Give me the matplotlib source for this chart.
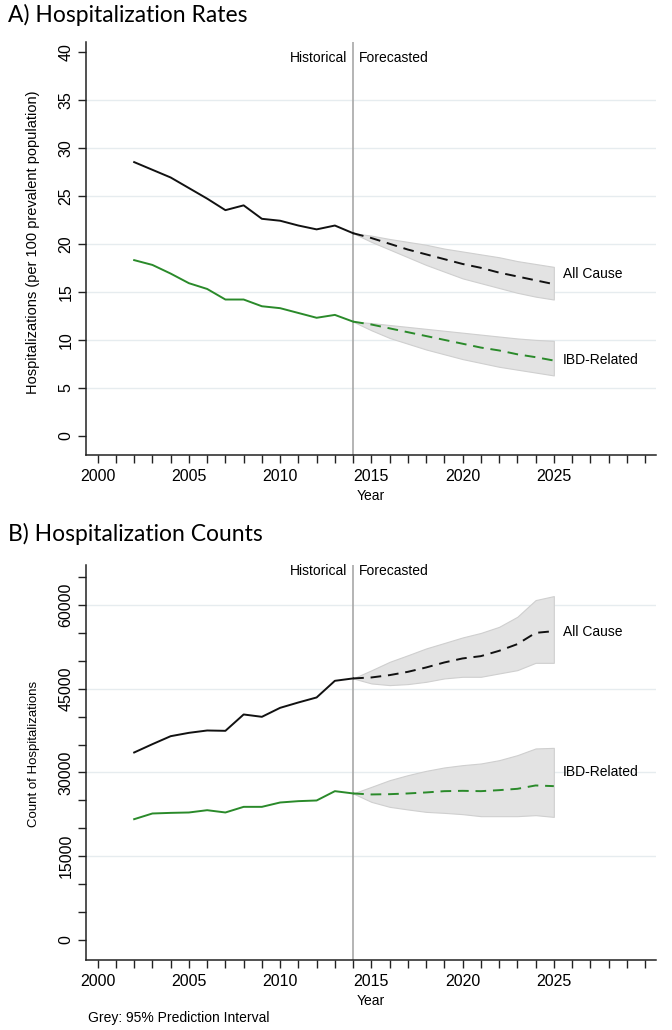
import matplotlib
matplotlib.use("Agg")
import matplotlib.pyplot as plt
import numpy as np

plt.rcParams['font.family'] = ['Liberation Sans', 'DejaVu Sans']

# ---------------- data ----------------
hist_years = list(range(2002, 2015))
fc_years = list(range(2014, 2026))

# Panel A: rates per 100 prevalent population
rate_all_hist = [28.5, 27.7, 26.9, 25.8, 24.7, 23.5, 24.0, 22.6, 22.4, 21.9, 21.5, 21.9, 21.1]
rate_ibd_hist = [18.3, 17.8, 16.9, 15.9, 15.3, 14.2, 14.2, 13.5, 13.3, 12.8, 12.3, 12.6, 11.9]

rate_all_fc = [21.1, 20.6, 20.0, 19.4, 18.9, 18.4, 17.9, 17.5, 17.0, 16.6, 16.2, 15.8]
rate_all_lo = [21.1, 20.2, 19.4, 18.6, 17.8, 17.1, 16.4, 15.9, 15.4, 14.9, 14.5, 14.2]
rate_all_hi = [21.1, 20.85, 20.5, 20.2, 19.9, 19.5, 19.2, 18.9, 18.6, 18.2, 17.9, 17.6]

rate_ibd_fc = [11.9, 11.6, 11.2, 10.8, 10.4, 10.0, 9.6, 9.2, 8.9, 8.5, 8.2, 7.85]
rate_ibd_lo = [11.9, 11.0, 10.2, 9.6, 9.0, 8.5, 8.0, 7.6, 7.2, 6.9, 6.6, 6.3]
rate_ibd_hi = [11.9, 11.75, 11.55, 11.35, 11.15, 10.95, 10.75, 10.55, 10.35, 10.15, 10.0, 9.9]

# Panel B: counts
cnt_all_hist = [33580, 35070, 36500, 37100, 37520, 37460, 40390, 39970, 41580, 42540, 43440, 46420, 46850]
cnt_ibd_hist = [21630, 22650, 22760, 22830, 23240, 22830, 23840, 23840, 24620, 24860, 24980, 26650, 26240]

cnt_all_fc = [46850, 47020, 47440, 48030, 48810, 49710, 50430, 50840, 51790, 52990, 55010, 55320]
cnt_all_lo = [46850, 45950, 45650, 45830, 46240, 46850, 47140, 47140, 47740, 48330, 49640, 49640]
cnt_all_hi = [46850, 48300, 49820, 51000, 52220, 53200, 54190, 55000, 56090, 57890, 60880, 61600]

cnt_ibd_fc = [26240, 26060, 26110, 26240, 26420, 26650, 26710, 26650, 26830, 27070, 27670, 27550]
cnt_ibd_lo = [26240, 24730, 23840, 23370, 22940, 22760, 22530, 22170, 22170, 22170, 22350, 22040]
cnt_ibd_hi = [26240, 27420, 28620, 29520, 30290, 30900, 31310, 31610, 32200, 33100, 34300, 34410]

x_major = [2000, 2005, 2010, 2015, 2020, 2025]
x_minor = list(range(2000, 2031))
rate_ticks = [0, 5, 10, 15, 20, 25, 30, 35, 40]
rate_grid = [5, 10, 15, 20, 25, 30, 35]
cnt_ticks = [0, 15000, 30000, 45000, 60000]
cnt_grid = [15000, 30000, 45000, 60000]
cnt_minor = list(range(0, 70000, 5000))

# ---------------- style ----------------
BLACK = "#111111"
GREEN = "#2a8a2a"
BAND = "#e3e3e3"
BAND_EDGE = "#cfcfcf"
GRID = "#e6ecef"
VLINE = "#a8a8a8"

fig = plt.figure(figsize=(6.72, 10.30), dpi=100)
axA = fig.add_axes([86/672, 1-455/1030, (656-86)/672, (455-42)/1030])
axB = fig.add_axes([86/672, 1-960/1030, (656-86)/672, (960-565)/1030])


def style_axis(ax, yticks, ygrid, yminor, ylim, ylabel, ylabsize, ylab_y):
    ax.set_xlim(1999.36, 2030.6)
    ax.set_ylim(*ylim)
    for s in ["top", "right"]:
        ax.spines[s].set_visible(False)
    for s in ["left", "bottom"]:
        ax.spines[s].set_linewidth(1.1)
        ax.spines[s].set_color("#222222")
    ax.set_xticks(x_minor, minor=True)
    ax.set_xticks(x_major)
    ax.set_xticklabels([str(v) for v in x_major], fontsize=11.5)
    ax.tick_params(axis="x", which="both", length=6, width=1.0, color="#222222", pad=4)
    ax.set_yticks(yticks)
    if yminor is not None:
        ax.set_yticks(yminor, minor=True)
    ax.set_yticklabels([str(v) for v in yticks], fontsize=11.5, rotation=90, va="center")
    ax.tick_params(axis="y", which="both", length=6, width=1.0, color="#222222", pad=3)
    for t in ygrid:
        ax.axhline(t, color=GRID, lw=1.0, zorder=0)
    ax.axvline(2014, color=VLINE, lw=1.2, zorder=1)
    ax.set_xlabel("Year", fontsize=10, labelpad=4)
    ax.set_ylabel(ylabel, fontsize=ylabsize)
    ax.yaxis.set_label_coords(-0.081, ylab_y)


def draw_series(ax, hist, fc, lo, hi, color):
    ax.fill_between(fc_years, lo, hi, facecolor=BAND, edgecolor=BAND_EDGE, lw=0.8, zorder=2)
    ax.plot(hist_years, hist, color=color, lw=1.4, zorder=3)
    ax.plot(fc_years, fc, color=color, lw=1.4, ls=(0, (5.5, 3.5)), zorder=3)


# Panel A
style_axis(axA, rate_ticks, rate_grid, None, (-1.98, 41.0),
           "Hospitalizations (per 100 prevalent population)", 10.5, 0.5145)
draw_series(axA, rate_all_hist, rate_all_fc, rate_all_lo, rate_all_hi, BLACK)
draw_series(axA, rate_ibd_hist, rate_ibd_fc, rate_ibd_lo, rate_ibd_hi, GREEN)
axA.text(2025.5, 16.9, "All Cause", fontsize=10, va="center", ha="left")
axA.text(2025.5, 7.9, "IBD-Related", fontsize=10, va="center", ha="left")
axA.text(2013.7, 39.3, "Historical", fontsize=10, va="center", ha="right")
axA.text(2014.3, 39.3, "Forecasted", fontsize=10, va="center", ha="left")

# Panel B
style_axis(axB, cnt_ticks, cnt_grid, cnt_minor, (-3600, 67170),
           "Count of Hospitalizations", 9.5, 0.5215)
draw_series(axB, cnt_all_hist, cnt_all_fc, cnt_all_lo, cnt_all_hi, BLACK)
draw_series(axB, cnt_ibd_hist, cnt_ibd_fc, cnt_ibd_lo, cnt_ibd_hi, GREEN)
axB.text(2025.5, 55200, "All Cause", fontsize=10, va="center", ha="left")
axB.text(2025.5, 30100, "IBD-Related", fontsize=10, va="center", ha="left")
axB.text(2013.7, 66080, "Historical", fontsize=10, va="center", ha="right")
axB.text(2014.3, 66080, "Forecasted", fontsize=10, va="center", ha="left")

fig.text(8/672, 1-15/1030, "A) Hospitalization Rates", fontsize=16.5, va="center", ha="left",
         family=["Lato", "DejaVu Sans"])
fig.text(8/672, 1-534/1030, "B) Hospitalization Counts", fontsize=16.5, va="center", ha="left",
         family=["Lato", "DejaVu Sans"])
fig.text(88/672, 1-1018/1030, "Grey: 95% Prediction Interval", fontsize=10, va="center", ha="left")

fig.savefig("out.png", dpi=100)
